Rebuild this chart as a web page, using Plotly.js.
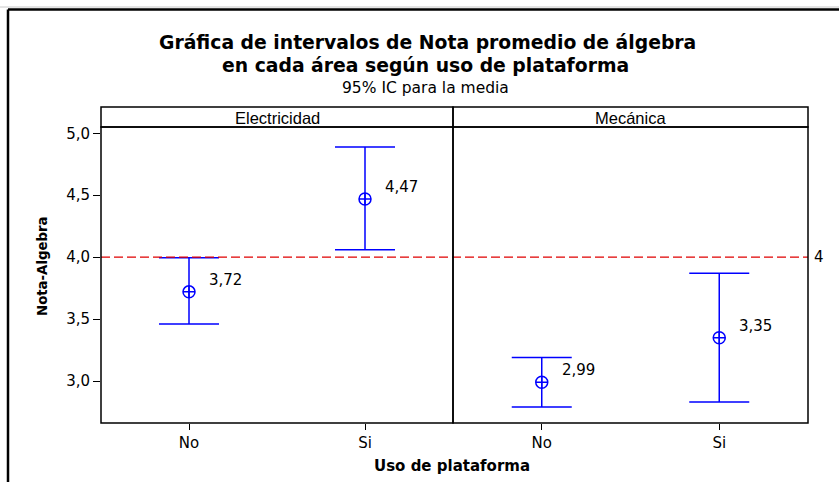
<!DOCTYPE html>
<html>
<head>
<meta charset="utf-8">
<script src="https://cdn.plot.ly/plotly-3.0.1.min.js"></script>
<style>html,body{margin:0;padding:0;background:#fff;}#chart{width:839px;height:482px;}</style>
</head>
<body>
<div id="chart"></div>
<script>
const areas = ['Electricidad', 'Mecánica'];
const usoCategories = ['No', 'Si'];
const elecMeans = [3.72, 4.47];
const elecUpper = [3.995, 4.89];
const elecLower = [3.46, 4.06];
const mecMeans = [2.99, 3.35];
const mecUpper = [3.19, 3.87];
const mecLower = [2.79, 2.83];
const referenceValue = 4;
const yTicks = [3.0, 3.5, 4.0, 4.5, 5.0];

const blue = '#0000FF';
const DV = 'DejaVu Sans, Verdana, sans-serif';
const tickFont = {family: DV, size: 15, color: '#000'};

function makeTrace(means, upper, lower, xa) {
  return {
    type: 'scatter', mode: 'markers',
    x: usoCategories, y: means, xaxis: xa, yaxis: 'y',
    marker: {symbol: 'circle-cross-open', size: 12, color: blue, line: {width: 1.5, color: blue}},
    error_y: {
      type: 'data', symmetric: false,
      array: upper.map((u, i) => u - means[i]),
      arrayminus: means.map((m, i) => m - lower[i]),
      color: blue, thickness: 1.5, width: 30
    },
    hoverinfo: 'skip', showlegend: false
  };
}

const data = [
  makeTrace(elecMeans, elecUpper, elecLower, 'x'),
  makeTrace(mecMeans, mecUpper, mecLower, 'x2')
];

const fmt = v => v.toFixed(2).replace('.', ',');
const annotations = [];
[[elecMeans, 'x'], [mecMeans, 'x2']].forEach(([means, xa]) => {
  means.forEach((m, i) => annotations.push({
    xref: xa, yref: 'y', x: usoCategories[i], y: m, text: fmt(m),
    showarrow: false, xanchor: 'left', yanchor: 'middle', xshift: 18, yshift: 12,
    font: {family: DV, size: 15, color: '#000'}
  }));
});

const W = 707, H = 296;
const px = v => (v - 101) / W;
const py = v => (423 - v) / H;
const divX = px(453);

// strip labels
annotations.push({xref: 'paper', yref: 'paper', x: divX / 2, y: py(117.5), text: areas[0], showarrow: false,
  xanchor: 'center', yanchor: 'middle', font: {family: 'Liberation Sans, Arial, sans-serif', size: 16.5, color: '#000'}});
annotations.push({xref: 'paper', yref: 'paper', x: (divX + 1) / 2, y: py(117.5), text: areas[1], showarrow: false,
  xanchor: 'center', yanchor: 'middle', font: {family: 'Liberation Sans, Arial, sans-serif', size: 16.5, color: '#000'}});
// reference label
annotations.push({xref: 'paper', yref: 'y', x: 1, y: referenceValue, text: String(referenceValue), showarrow: false,
  xanchor: 'left', yanchor: 'middle', xshift: 4, font: tickFont});
// titles
annotations.push({xref: 'paper', yref: 'paper', x: px(427), y: py(42), text: 'Gráfica de intervalos de Nota promedio de álgebra',
  showarrow: false, xanchor: 'center', yanchor: 'middle', font: {family: DV, size: 18.8, color: '#000', weight: 'bold'}});
annotations.push({xref: 'paper', yref: 'paper', x: px(425), y: py(65), text: 'en cada área según uso de plataforma',
  showarrow: false, xanchor: 'center', yanchor: 'middle', font: {family: DV, size: 18.8, color: '#000', weight: 'bold'}});
annotations.push({xref: 'paper', yref: 'paper', x: px(425), y: py(88), text: '95% IC para la media',
  showarrow: false, xanchor: 'center', yanchor: 'middle', font: {family: DV, size: 15.5, color: '#000'}});
// axis titles
annotations.push({xref: 'paper', yref: 'paper', x: px(452), y: py(466), text: 'Uso de plataforma',
  showarrow: false, xanchor: 'center', yanchor: 'middle', font: {family: DV, size: 15, color: '#000', weight: 'bold'}});
annotations.push({xref: 'paper', yref: 'paper', x: px(42), y: py(266), text: 'Nota-Algebra', textangle: -90,
  showarrow: false, xanchor: 'center', yanchor: 'middle', font: {family: DV, size: 13.3, color: '#000', weight: 'bold'}});

const shapes = [
  // outer frame
  {type: 'line', xref: 'paper', yref: 'paper', x0: px(0), x1: px(839), y0: py(7), y1: py(7), line: {color: '#c8c8c8', width: 1}},
  {type: 'line', xref: 'paper', yref: 'paper', x0: px(8), x1: px(839), y0: py(9.5), y1: py(9.5), line: {color: '#000', width: 2.5}},
  {type: 'line', xref: 'paper', yref: 'paper', x0: px(8), x1: px(8), y0: py(9.5), y1: py(482), line: {color: '#000', width: 2.5}},
  // reference line
  {type: 'line', xref: 'paper', yref: 'y', x0: 0, x1: 1, y0: referenceValue, y1: referenceValue, line: {color: '#E00000', width: 1.2, dash: '9px,4px'}},
  // panels
  {type: 'rect', xref: 'paper', yref: 'paper', x0: 0, x1: divX, y0: 0, y1: py(127), line: {color: '#000', width: 1.5}},
  {type: 'rect', xref: 'paper', yref: 'paper', x0: divX, x1: 1, y0: 0, y1: py(127), line: {color: '#000', width: 1.5}},
  // strips
  {type: 'rect', xref: 'paper', yref: 'paper', x0: 0, x1: divX, y0: py(127), y1: py(107), line: {color: '#000', width: 1.5}},
  {type: 'rect', xref: 'paper', yref: 'paper', x0: divX, x1: 1, y0: py(127), y1: py(107), line: {color: '#000', width: 1.5}}
];

const yTop = 5.0 + (133.3 - 127) / 124;
const yBot = 3.0 - (423 - 381) / 124;

const xCommon = {
  type: 'category', range: [-0.5, 1.5], showgrid: false, zeroline: false, showline: false,
  ticks: 'outside', ticklen: 6, tickwidth: 1, tickcolor: '#000', tickfont: {family: DV, size: 15, color: '#000'},
  fixedrange: true
};

const layout = {
  width: 839, height: 482,
  margin: {l: 101, r: 31, t: 127, b: 59, pad: 0},
  paper_bgcolor: '#fff', plot_bgcolor: '#fff',
  separators: ',.',
  showlegend: false,
  xaxis: Object.assign({}, xCommon, {domain: [0, divX], anchor: 'y'}),
  xaxis2: Object.assign({}, xCommon, {domain: [divX, 1], anchor: 'y'}),
  yaxis: {
    range: [yBot, yTop], domain: [0, py(127)], anchor: 'x',
    tickvals: yTicks, tickformat: '.1f', showgrid: false, zeroline: false, showline: false,
    ticks: 'outside', ticklen: 7, tickwidth: 1, tickcolor: '#000', tickfont: tickFont, fixedrange: true
  },
  shapes: shapes,
  annotations: annotations
};

Plotly.newPlot('chart', data, layout, {displayModeBar: false, staticPlot: true});
</script>
</body>
</html>
